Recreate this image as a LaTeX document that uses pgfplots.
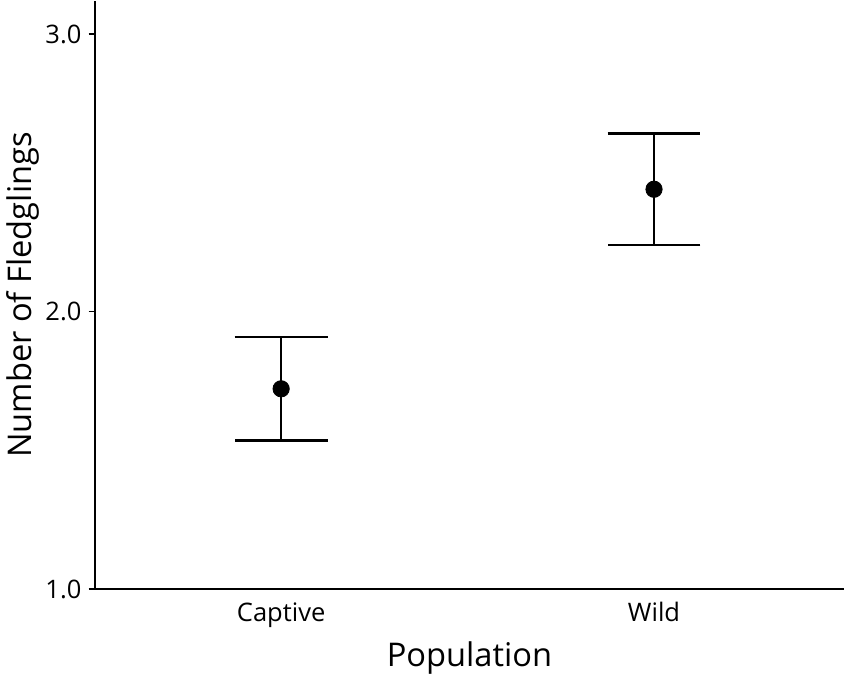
\documentclass[border=0pt]{standalone}
\usepackage{pgfplots}
\pgfplotsset{compat=1.18}
\usepackage{fontspec}
\setmainfont{Open Sans}
\begin{document}
\begin{tikzpicture}
\begin{axis}[
  scale only axis, width=367.5pt, height=288.5pt,
  xmin=-0.5, xmax=1.51, ymin=1.0, ymax=3.12,
  axis lines=left, axis line style={-, line width=0.8pt},
  xtick={0,1}, xticklabels={Captive,Wild},
  ytick={1,2,3}, yticklabels={1.0,2.0,3.0},
  major tick length=3pt, tick style={black, line width=0.8pt},
  xtick style={draw=none},
  tick align=outside,
  ticklabel style={font=\fontsize{12.5}{14}\selectfont},
  xlabel={Population}, ylabel={Number of Fledglings},
  label style={font=\fontsize{16}{18}\selectfont},
  xlabel style={yshift=0pt},
  ylabel style={yshift=-4pt},
  clip=false,
]
\addplot[only marks, mark=*, mark size=4pt, black,
  error bars/.cd, y dir=both, y explicit,
  error bar style={line width=1.2pt, black},
  error mark options={rotate=90, mark size=22.75pt, line width=1.2pt, black}]
  coordinates {(0,1.722) +- (0,0.186) (1,2.441) +- (0,0.201)};
\end{axis}
\end{tikzpicture}
\end{document}
